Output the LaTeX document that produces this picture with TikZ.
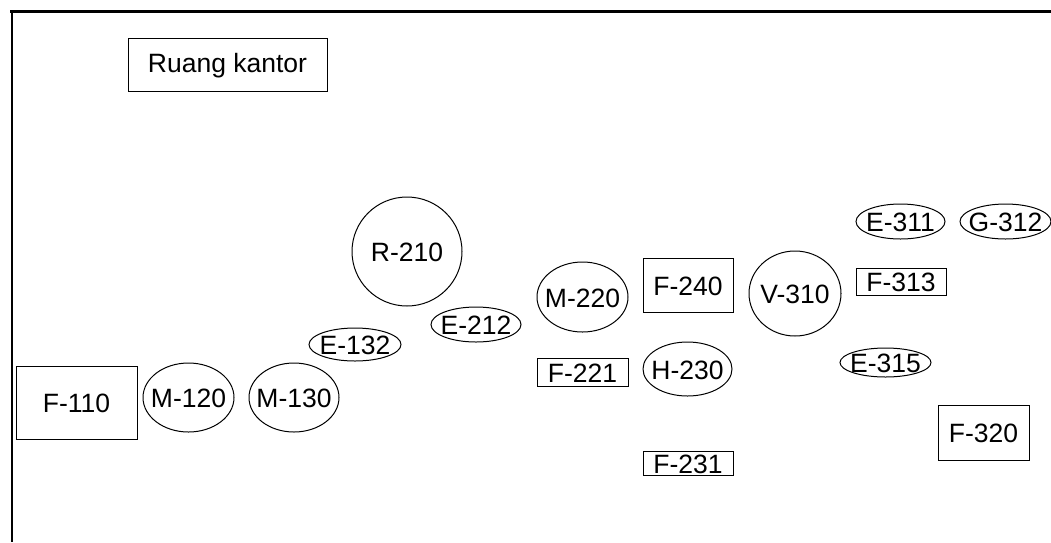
\documentclass[tikz,border=0pt]{standalone}
\usepackage{fontspec}
\setmainfont{Liberation Sans}
\usetikzlibrary{shapes.geometric}
\begin{document}
\begin{tikzpicture}[x=1pt, y=-1pt,
  box/.style={draw, line width=1pt, rectangle, inner sep=0pt},
  oval/.style={draw, line width=1pt, ellipse, inner sep=0pt},
  tag/.style={inner sep=0pt, font=\fontsize{26.5}{31}\selectfont}]
\useasboundingbox (0,0) rectangle (1051,542);

% frame edges
\draw[line width=3pt] (10,11) -- (1051,11);
\draw[line width=1.5pt] (11.8,10) -- (11.8,542);

% shapes: name, centre, size
\foreach \n/\sh/\cx/\cy/\w/\h/\t in {
  kantor/box/227.5/64.5/199/53/Ruang kantor,
  f110/box/76.5/402.5/121/73/F-110,
  m120/oval/188.5/397.5/91/69/M-120,
  m130/oval/294/397.5/90/69/M-130,
  r210/oval/407/251.5/110/109/R-210,
  e132/oval/355/344.5/92/33/E-132,
  e212/oval/476/324.5/90/35/E-212,
  m220/oval/582.5/297/91/70/M-220,
  f221/box/582.5/372/91/28/F-221,
  f240/box/688/285/90/54/F-240,
  h230/oval/687.5/369/89/54/H-230,
  f231/box/688/463/90/24/F-231,
  v310/oval/795/293.5/92/85/V-310,
  e311/oval/900.5/221.5/89/35/E-311,
  g312/oval/1005.5/221.5/91/35/G-312,
  f313/box/901/281.5/90/27/F-313,
  e315/oval/885.5/362.5/91/29/E-315,
  f320/box/983.5/432.5/91/55/F-320}
{
  \node[\sh, minimum width=\w pt, minimum height=\h pt] (\n) at (\cx,\cy) {};
  \node[tag] (\n-t) at ([yshift=-1pt]\n.center) {\t};
}
\end{tikzpicture}
\end{document}
